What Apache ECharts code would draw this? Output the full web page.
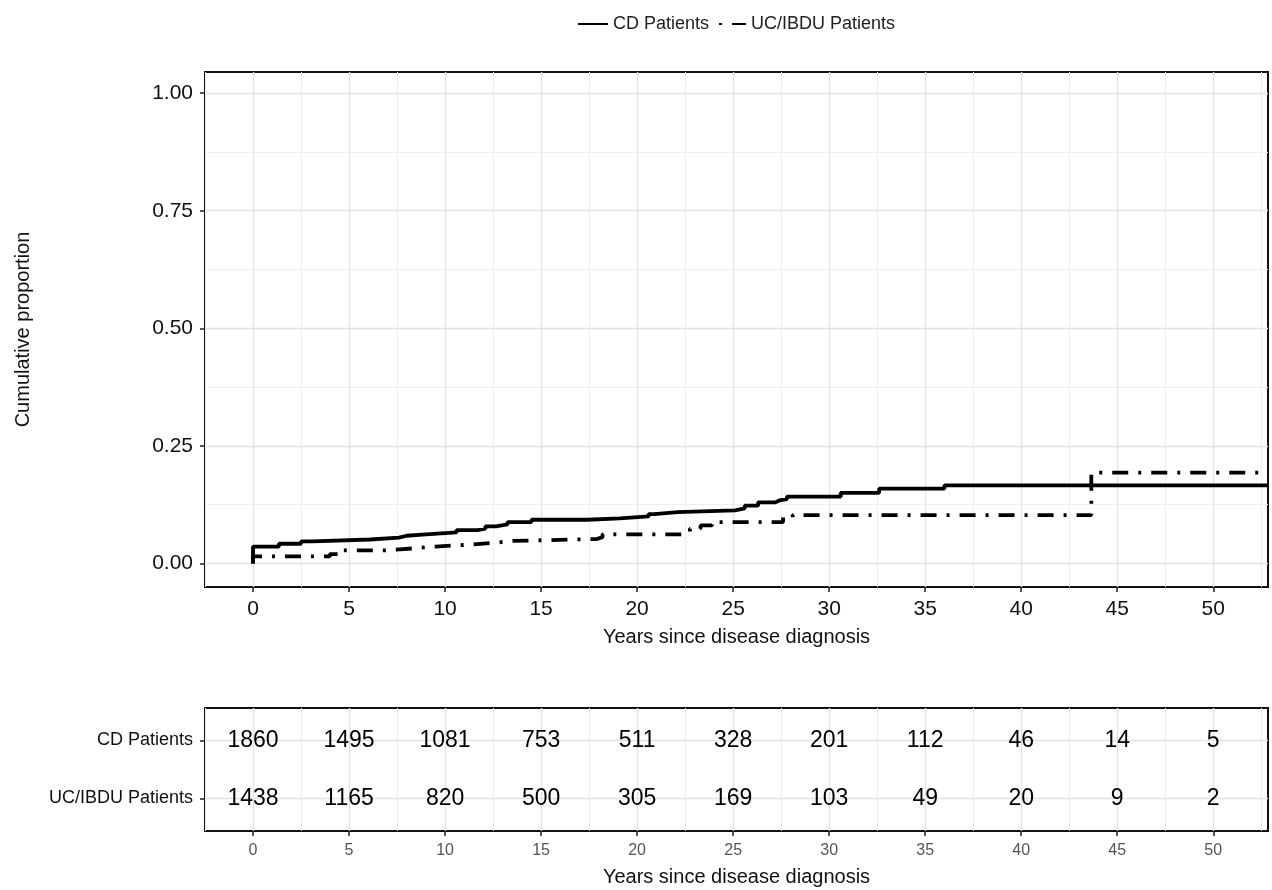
<!DOCTYPE html>
<html><head><meta charset="utf-8">
<script src="https://cdn.jsdelivr.net/npm/echarts@6/dist/echarts.min.js"></script>
<style>html,body{margin:0;padding:0;background:#fff}#chart{width:1272px;height:890px}</style>
</head><body><div id="chart"></div>
<script>
// ---- data ----
const seriesNames = ['CD Patients', 'UC/IBDU Patients'];
const cdTimes = [0, 0, 1.35, 2.5, 3.1, 6.1, 7.6, 8.0, 9.0, 10.6, 11.7, 12.1, 12.65, 13.25, 14.5, 17.4, 19.1, 20.6, 20.9, 22.1, 25.1, 25.6, 26.3, 27.2, 27.4, 27.8, 30.6, 32.6, 36.0, 52.85];
const cdProps = [0, 0.036, 0.042, 0.047, 0.051, 0.055, 0.059, 0.062, 0.066, 0.071, 0.074, 0.079, 0.083, 0.088, 0.093, 0.096, 0.100, 0.105, 0.109, 0.113, 0.117, 0.123, 0.130, 0.134, 0.137, 0.142, 0.150, 0.159, 0.166, 0.166];
const ucTimes = [0, 0, 4.0, 4.6, 7.0, 8.3, 9.5, 11.3, 12.6, 13.5, 17.9, 18.2, 22.5, 22.75, 23.3, 23.9, 27.6, 28.1, 43.65, 52.85];
const ucProps = [0, 0.015, 0.020, 0.028, 0.032, 0.036, 0.040, 0.044, 0.048, 0.052, 0.056, 0.062, 0.066, 0.074, 0.081, 0.088, 0.098, 0.103, 0.193, 0.193];
const riskTimes = [0, 5, 10, 15, 20, 25, 30, 35, 40, 45, 50];
const cdAtRisk = [1860, 1495, 1081, 753, 511, 328, 201, 112, 46, 14, 5];
const ucAtRisk = [1438, 1165, 820, 500, 305, 169, 103, 49, 20, 9, 2];
const xMajorTicks = [0, 5, 10, 15, 20, 25, 30, 35, 40, 45, 50];
const xMinorTicks = [-2.5, 2.5, 7.5, 12.5, 17.5, 22.5, 27.5, 32.5, 37.5, 42.5, 47.5, 52.5];
const yMajorTicks = [0, 0.25, 0.5, 0.75, 1];
const yMinorTicks = [0.125, 0.375, 0.625, 0.875];
const riskRowLabels = ['CD Patients', 'UC/IBDU Patients'];
const xTitle = 'Years since disease diagnosis';
const yTitle = 'Cumulative proportion';

// ---- build ----
const FONT = '"Liberation Sans", Arial, sans-serif';
const MAJOR = '#e2e2e2', MINOR = '#eeeeee';
const X_MIN = -2.5, X_MAX = 52.85;
const zip = (a, b) => a.map((v, i) => [v, b[i]]);
const rowVal = {'CD Patients': 2, 'UC/IBDU Patients': 1};

function majorX(grid, labelColor, labelSize, nameGap) {
  return {
    type: 'value', gridIndex: grid, min: X_MIN, max: X_MAX, position: 'bottom',
    name: xTitle, nameLocation: 'middle', nameGap: nameGap,
    nameTextStyle: {fontFamily: FONT, fontSize: 20, color: '#111'},
    axisLine: {show: false, onZero: false},
    axisTick: {show: true, inside: false, length: 5, lineStyle: {color: '#222', width: 1.5}, customValues: xMajorTicks},
    axisLabel: {show: true, customValues: xMajorTicks, fontFamily: FONT, fontSize: labelSize, color: labelColor, margin: 12},
    splitLine: {show: true, lineStyle: {color: MAJOR, width: 1.3}}
  };
}
function minorX(grid) {
  return {
    type: 'value', gridIndex: grid, min: X_MIN, max: X_MAX, position: 'bottom',
    axisLine: {show: false, onZero: false},
    axisTick: {show: false, customValues: xMinorTicks},
    axisLabel: {show: false, customValues: xMinorTicks},
    splitLine: {show: true, lineStyle: {color: MINOR, width: 1}}
  };
}
const numLabel = {show: true, position: 'inside', fontFamily: FONT, fontSize: 23, color: '#000',
  textBorderWidth: 0, textBorderColor: 'transparent', opacity: 1,
  formatter: p => String(p.value[2])};

const option = {
  animation: false,
  backgroundColor: '#fff',
  textStyle: {fontFamily: FONT},
  legend: {
    top: 10, left: 572, itemWidth: 30, itemHeight: 14, itemGap: 6,
    itemStyle: {opacity: 0},
    textStyle: {fontFamily: FONT, fontSize: 18, color: '#222'},
    data: [
      {name: seriesNames[0]},
      {name: seriesNames[1], lineStyle: {dashOffset: 23}}
    ]
  },
  grid: [
    {left: 205, top: 72, width: 1063, height: 515, show: true, borderColor: '#111', borderWidth: 2, backgroundColor: '#fff'},
    {left: 205, top: 708, width: 1063, height: 123, show: true, borderColor: '#111', borderWidth: 2, backgroundColor: '#fff'}
  ],
  xAxis: [
    majorX(0, '#111', 21, 40),
    minorX(0),
    majorX(1, '#555', 16, 36),
    minorX(1)
  ],
  yAxis: [
    {
      type: 'value', gridIndex: 0, min: -0.05, max: 1.045,
      name: yTitle, nameLocation: 'middle', nameGap: 172, nameRotate: 90,
      nameTextStyle: {fontFamily: FONT, fontSize: 20, color: '#111'},
      axisLine: {show: false, onZero: false},
      axisTick: {show: true, inside: false, length: 5, lineStyle: {color: '#222', width: 1.5}, customValues: yMajorTicks},
      axisLabel: {show: true, customValues: yMajorTicks, fontFamily: FONT, fontSize: 21, color: '#111', margin: 12,
        formatter: v => v.toFixed(2)},
      splitLine: {show: true, lineStyle: {color: MAJOR, width: 1.3}}
    },
    {
      type: 'value', gridIndex: 0, min: -0.05, max: 1.045,
      axisLine: {show: false, onZero: false},
      axisTick: {show: false, customValues: yMinorTicks},
      axisLabel: {show: false, customValues: yMinorTicks},
      splitLine: {show: true, lineStyle: {color: MINOR, width: 1}}
    },
    {
      type: 'value', gridIndex: 1, min: 0.44, max: 2.56,
      axisLine: {show: false, onZero: false},
      axisTick: {show: true, inside: false, length: 5, lineStyle: {color: '#222', width: 1.5}, customValues: [1, 2]},
      axisLabel: {show: true, customValues: [1, 2], fontFamily: FONT, fontSize: 18, color: '#111', margin: 12,
        formatter: v => (v === 2 ? riskRowLabels[0] : v === 1 ? riskRowLabels[1] : '')},
      splitLine: {show: true, lineStyle: {color: MAJOR, width: 1.3}}
    }
  ],
  series: [
    {
      name: seriesNames[0], type: 'line', step: 'end', xAxisIndex: 0, yAxisIndex: 0,
      showSymbol: false, symbol: 'none', clip: true,
      lineStyle: {color: '#000', width: 3.8},
      itemStyle: {color: '#000'},
      data: zip(cdTimes, cdProps), z: 5
    },
    {
      name: seriesNames[1], type: 'line', step: 'end', xAxisIndex: 0, yAxisIndex: 0,
      showSymbol: false, symbol: 'none', clip: true,
      lineStyle: {color: '#000', width: 3.8, type: [16, 10, 3, 10], cap: 'butt'},
      itemStyle: {color: '#000'},
      data: zip(ucTimes, ucProps), z: 5
    },
    {
      name: 'risk-' + riskRowLabels[0], type: 'scatter', xAxisIndex: 2, yAxisIndex: 2,
      symbolSize: 0, itemStyle: {color: '#000'}, label: numLabel,
      data: riskTimes.map((t, i) => [t, rowVal[riskRowLabels[0]], cdAtRisk[i]])
    },
    {
      name: 'risk-' + riskRowLabels[1], type: 'scatter', xAxisIndex: 2, yAxisIndex: 2,
      symbolSize: 0, itemStyle: {color: '#000'}, label: numLabel,
      data: riskTimes.map((t, i) => [t, rowVal[riskRowLabels[1]], ucAtRisk[i]])
    }
  ]
};
const chart = echarts.init(document.getElementById('chart'), null, {renderer: 'canvas'});
chart.setOption(option);
</script></body></html>
